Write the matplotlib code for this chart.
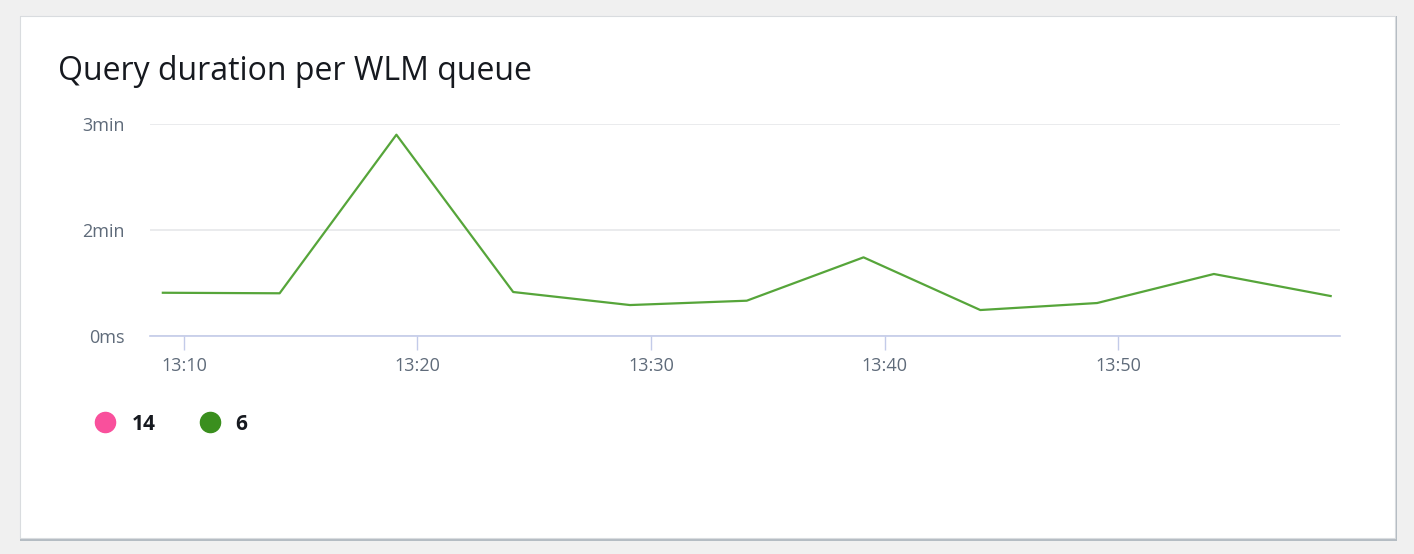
import matplotlib
matplotlib.use("Agg")
import matplotlib.pyplot as plt
import matplotlib.dates as mdates
from matplotlib.patches import Rectangle
from matplotlib.lines import Line2D
from matplotlib.ticker import FixedLocator, FixedFormatter
import datetime as dt

plt.rcParams['font.family'] = ['Open Sans', 'DejaVu Sans']

# ---- data ----
title = "Query duration per WLM queue"
times = ["13:09:06", "13:14:06", "13:19:06", "13:24:06", "13:29:06", "13:34:06",
         "13:39:06", "13:44:06", "13:49:06", "13:54:06", "13:59:06"]
queue6_seconds = [40.8, 40.3, 189.9, 41.5, 29.2, 33.3, 74.2, 24.5, 31.1, 58.5, 37.7]
queue14_seconds = []          # listed in legend, no points visible
series_names = ["14", "6"]
series_colors = ["#f9509c", "#3a8f1e"]
line_color = "#56a53a"
y_ticks = [0, 100, 200]
y_tick_labels = ["0ms", "2min", "3min"]
x_ticks = ["13:10", "13:20", "13:30", "13:40", "13:50"]
x_range = ["13:08:33", "13:59:30"]

day = dt.date(2024, 1, 1)
def to_dt(s):
    parts = [int(p) for p in s.split(":")]
    while len(parts) < 3:
        parts.append(0)
    return dt.datetime.combine(day, dt.time(*parts))

W, H = 1414, 554
fig = plt.figure(figsize=(W / 100, H / 100), dpi=100, facecolor="#f0f0f0")

# card background
fig.patches.append(Rectangle((20 / W, (H - 541) / H), 1377 / W, 525 / H,
                             transform=fig.transFigure, facecolor="#b4bcc3",
                             edgecolor="none", zorder=-10))
fig.patches.append(Rectangle((20 / W, (H - 538) / H), 1375 / W, 522 / H,
                             transform=fig.transFigure, facecolor="white",
                             edgecolor="#d9dcdf", linewidth=0.8, zorder=-9))

ax = fig.add_axes([150 / W, (H - 336) / H, 1190 / W, 212 / H])
ax.set_facecolor("none")
ax.set_zorder(2)

xs = [to_dt(t) for t in times]
ax.plot([to_dt(t) for t in times[:len(queue14_seconds)]], queue14_seconds,
        color=series_colors[0], linewidth=1.5)
ax.plot(xs, queue6_seconds, color=line_color, linewidth=1.6, clip_on=False)

ax.set_xlim(to_dt(x_range[0]), to_dt(x_range[1]))
ax.set_ylim(0, 200)

ax.yaxis.set_major_locator(FixedLocator(y_ticks))
ax.yaxis.set_major_formatter(FixedFormatter(y_tick_labels))
ax.set_xticks([mdates.date2num(to_dt(t)) for t in x_ticks])
ax.set_xticklabels(x_ticks)

for s in ["top", "right", "left"]:
    ax.spines[s].set_visible(False)
ax.spines["bottom"].set_color("#c3cbe9")
ax.spines["bottom"].set_linewidth(1.2)

ax.grid(axis="y", color="#e6e8ea", linewidth=1.2)
ax.set_axisbelow(True)
ax.tick_params(axis="y", length=0, pad=18, labelsize=13, labelcolor="#5f6b7a")
ax.tick_params(axis="x", length=10, width=1.0, color="#c3cbe9", pad=5,
               labelsize=13, labelcolor="#5f6b7a")

fig.text(58 / W, 1 - 72 / H, title, fontsize=23, color="#16191f",
         ha="left", va="center")

handles = [Line2D([0], [0], marker="o", linestyle="", markersize=14.5,
                  markerfacecolor=c, markeredgecolor=c) for c in series_colors]
leg = fig.legend(handles, series_names, loc="center left",
                 bbox_to_anchor=(97 / W, 1 - 424 / H), ncol=2, frameon=False,
                 handlelength=0.8, handletextpad=0.85, columnspacing=2.2,
                 borderaxespad=0, borderpad=0,
                 prop={"size": 15, "weight": "bold"})
for t in leg.get_texts():
    t.set_color("#16191f")

fig.savefig("out.png", dpi=100, facecolor=fig.get_facecolor())
